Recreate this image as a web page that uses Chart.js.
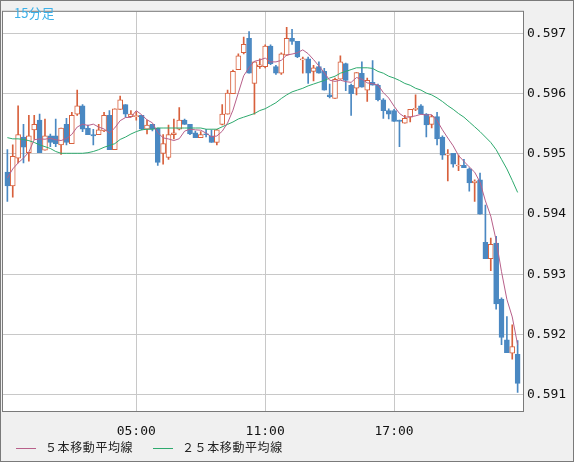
<!DOCTYPE html>
<html><head><meta charset="utf-8">
<script src="https://cdn.jsdelivr.net/npm/chart.js@4"></script>
<style>
html,body{margin:0;padding:0;background:#f0f0f0;}
#wrap{position:relative;width:572px;height:460px;border:1px solid #7a7a7a;background:#f0f0f0;}
canvas{position:absolute;left:-1px;top:-1px;}
#title{position:absolute;left:13px;top:2px;font:13px "Noto Sans CJK JP",sans-serif;color:#3cb0e8;}
.lg{position:absolute;top:437px;font:12px "Noto Sans CJK JP",sans-serif;color:#222;letter-spacing:0.6px;}
.lg span{display:inline-block;width:20px;height:0;border-top:1px solid;vertical-align:middle;margin-right:9px;}
</style></head><body>
<div id="wrap"><canvas id="c" width="574" height="462"></canvas>
<div id="title">15分足</div>
<div class="lg" style="left:15px"><span style="border-color:#b8608a"></span>５本移動平均線</div>
<div class="lg" style="left:152px"><span style="border-color:#2eaa6e"></span>２５本移動平均線</div>
</div>
<script>
const tickLabels={24:"05:00",48:"11:00",72:"17:00"};
const open =[59470,59447,59493,59528,59502,59540,59556,59506,59530,59530,59515,59549,59517,59566,59580,59543,59532,59532,59538,59564,59507,59574,59582,59562,59562,59564,59541,59549,59543,59501,59494,59532,59541,59556,59549,59535,59527,59532,59530,59519,59549,59566,59600,59640,59668,59692,59617,59645,59645,59679,59645,59634,59664,59692,59687,59656,59658,59637,59645,59637,59598,59592,59624,59650,59614,59609,59634,59606,59619,59614,59590,59572,59572,59556,59551,59561,59574,59580,59566,59549,59562,59528,59498,59501,59480,59481,59475,59452,59457,59353,59326,59352,59259,59191,59169,59167];
const high =[59507,59515,59580,59549,59564,59564,59566,59558,59533,59558,59543,59559,59569,59606,59582,59548,59541,59549,59569,59572,59575,59596,59582,59572,59570,59564,59556,59549,59543,59532,59548,59558,59577,59558,59549,59538,59537,59541,59540,59541,59582,59606,59639,59666,59694,59703,59653,59658,59681,59681,59647,59668,59710,59707,59687,59661,59661,59647,59653,59642,59616,59626,59663,59651,59616,59635,59653,59626,59655,59616,59592,59575,59574,59556,59564,59574,59598,59582,59567,59564,59569,59530,59507,59501,59498,59491,59477,59457,59468,59415,59360,59363,59261,59230,59216,59190];
const low  =[59421,59428,59485,59485,59488,59524,59502,59506,59512,59512,59499,59515,59517,59564,59537,59532,59515,59532,59537,59507,59507,59574,59561,59561,59556,59540,59533,59538,59481,59483,59491,59525,59540,59549,59532,59527,59527,59528,59519,59515,59548,59566,59600,59640,59666,59634,59566,59642,59643,59648,59632,59632,59663,59682,59660,59634,59617,59621,59634,59606,59593,59592,59624,59605,59564,59598,59611,59587,59614,59588,59559,59558,59554,59512,59551,59553,59572,59566,59528,59543,59515,59491,59455,59478,59472,59477,59438,59421,59400,59326,59306,59242,59183,59170,59159,59104];
const close=[59447,59496,59532,59511,59530,59549,59502,59530,59519,59517,59543,59519,59564,59580,59541,59532,59530,59540,59564,59507,59575,59590,59566,59566,59562,59541,59548,59541,59486,59517,59532,59535,59556,59549,59533,59527,59532,59531,59519,59540,59566,59601,59637,59663,59682,59634,59653,59648,59679,59650,59634,59666,59692,59687,59661,59658,59634,59643,59634,59606,59595,59624,59653,59622,59600,59635,59611,59622,59614,59590,59572,59566,59554,59554,59559,59574,59575,59567,59548,59562,59525,59498,59499,59483,59481,59477,59452,59455,59400,59326,59350,59251,59195,59170,59180,59119];
const ma5Start=[59460,59475,59485,59493];
const ma25=[59527,59525,59525,59524,59522,59519,59515,59512,59509,59504,59501,59501,59501,59501,59501,59502,59504,59507,59511,59514,59517,59524,59528,59533,59537,59540,59541,59541,59543,59543,59543,59543,59543,59543,59543,59543,59543,59541,59541,59541,59545,59549,59553,59558,59561,59564,59567,59572,59575,59580,59585,59592,59598,59603,59606,59609,59613,59616,59619,59622,59626,59629,59634,59637,59640,59643,59643,59643,59642,59637,59634,59629,59626,59622,59617,59614,59609,59606,59601,59598,59593,59587,59580,59574,59567,59561,59553,59545,59537,59528,59519,59507,59491,59475,59456,59436];
const S=v=>v/100000;
const UP='#d8603c', DN='#4a88c2';
const wick=[],body=[],wc=[],bb=[],bc=[],m5=[],m25=[];
for(let i=0;i<open.length;i++){
  const up=close[i]>=open[i];
  wick.push({x:i,y:[S(low[i]),S(high[i])]});
  let a=open[i],b=close[i]; if(Math.abs(a-b)<1.5){b=a+1.5;}
  body.push({x:i,y:[S(Math.min(a,b)),S(Math.max(a,b))]});
  wc.push(up?UP:DN); bb.push(up?'#ffffff':DN); bc.push(up?UP:DN);
  let m; if(i<4) m=ma5Start[i]; else m=(close[i]+close[i-1]+close[i-2]+close[i-3]+close[i-4])/5;
  m5.push({x:i,y:S(m)}); m25.push({x:i,y:S(ma25[i])});
}
const areaPlugin={id:'area',beforeDraw(ch){const a=ch.chartArea,c=ch.ctx;c.save();c.fillStyle='#fff';c.fillRect(a.left,a.top,a.right-a.left,a.bottom-a.top);c.restore();},
 afterDraw(ch){const a=ch.chartArea,c=ch.ctx;c.save();c.strokeStyle='#7a7a7a';c.lineWidth=1;c.strokeRect(a.left+0.5,a.top-0.5,a.right-a.left,a.bottom-a.top+1);c.restore();}};
new Chart(document.getElementById('c'),{
 type:'bar',
 data:{datasets:[
  {type:'line',data:m25,borderColor:'#2eaa6e',borderWidth:1,pointRadius:0,order:1},
  {type:'line',data:m5,borderColor:'#b8608a',borderWidth:1,pointRadius:0,order:0},
  {data:wick,backgroundColor:wc,barThickness:1,order:3,grouped:false},
  {data:body,backgroundColor:bb,borderColor:bc,borderWidth:1,borderSkipped:false,barThickness:5,order:2,grouped:false}
 ]},
 options:{responsive:false,animation:false,devicePixelRatio:1,
  layout:{padding:{left:2,top:2,right:0,bottom:0}},
  plugins:{legend:{display:false},tooltip:{enabled:false}},
  scales:{
   x:{type:'linear',min:-1,max:96,offset:false,bounds:'ticks',grid:{color:'#c8c8c8',drawTicks:false,offset:false},border:{display:false},
      afterDataLimits(s){s.min=-1;s.max=96;},
      afterBuildTicks(s){s.ticks=[{value:24},{value:48},{value:72}];},
      afterFit(s){s.height=51;},
      ticks:{padding:13,color:'#111',font:{family:'DejaVu Sans Mono',size:13},callback:v=>tickLabels[v]||''}},
   y:{position:'right',min:0.59073,max:0.59736,grid:{color:'#c8c8c8',drawTicks:false},border:{display:false},
      afterBuildTicks(s){s.ticks=[0.591,0.592,0.593,0.594,0.595,0.596,0.597].map(v=>({value:v}));},
      afterFit(s){s.width=51;},
      ticks:{padding:4,color:'#111',font:{family:'DejaVu Sans Mono',size:13},callback:v=>v.toFixed(3)}}
  }},
 plugins:[areaPlugin]
});
</script></body></html>
